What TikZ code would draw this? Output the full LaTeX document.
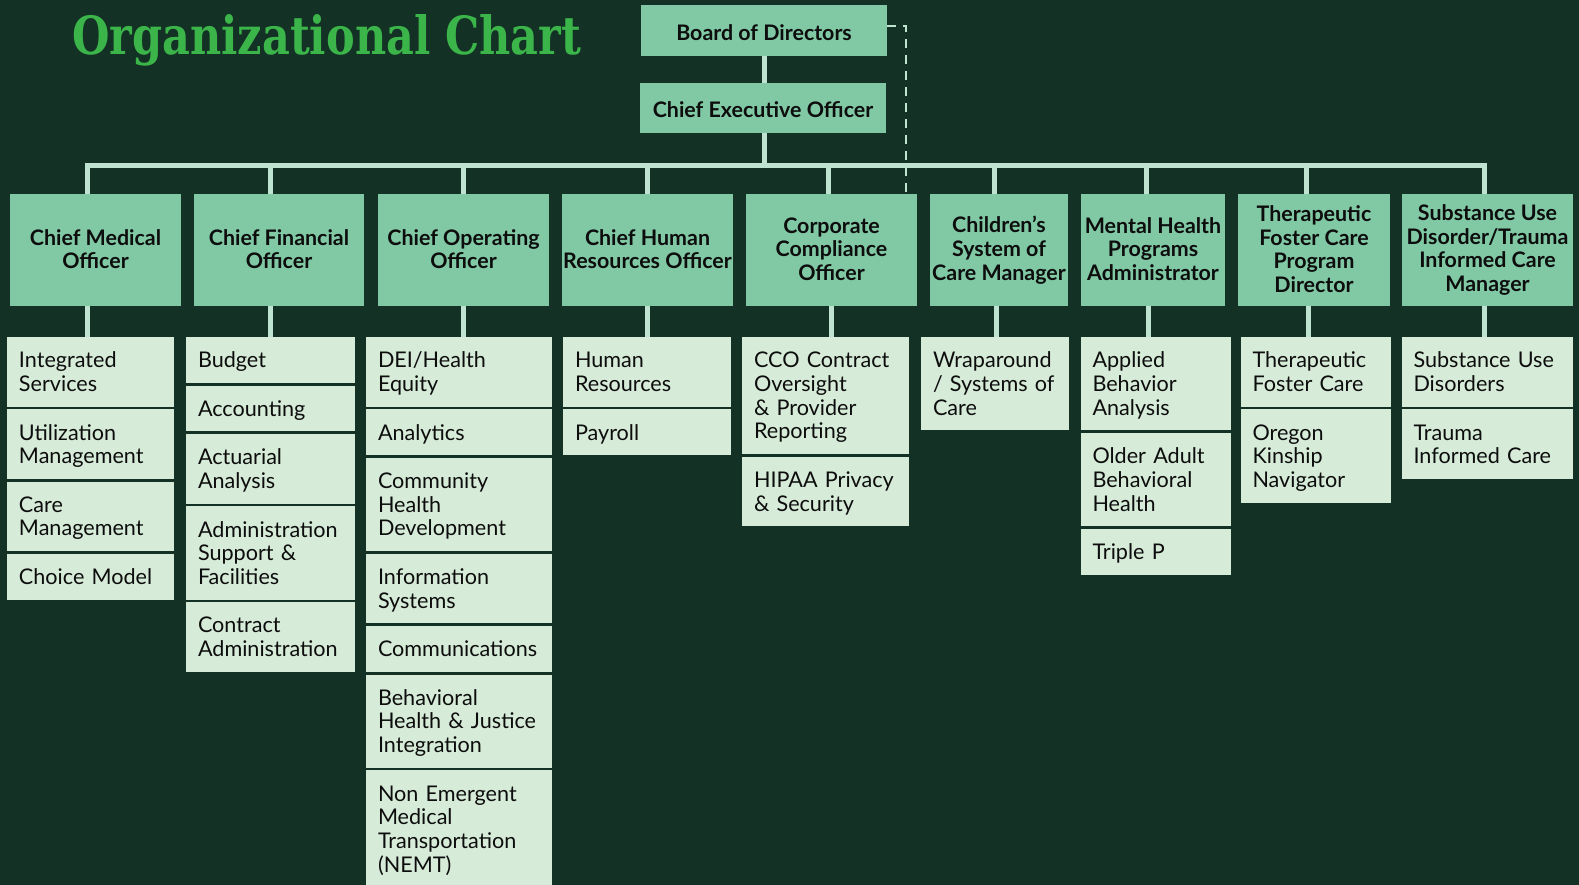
\documentclass[tikz,border=0pt]{standalone}
\usepackage{fontspec}
\setmainfont{Lato}
\newfontfamily\subfont{Lato}[WordSpace=0.75]
\newfontfamily\titlefont{DejaVu Serif}
\usetikzlibrary{positioning}
\definecolor{bgc}{HTML}{133124}
\definecolor{hdrfill}{HTML}{81C9A5}
\definecolor{subfill}{HTML}{D6EBD8}
\definecolor{connc}{HTML}{BEE3D1}
\definecolor{ttlc}{HTML}{3BB54A}
\definecolor{txtc}{HTML}{0D0D0D}
\newcommand\cornernode[7]{%
  \pgfmathsetmacro\cnw{#5-#3}\pgfmathsetmacro\cnh{#6-#4}%
  \node[#1, minimum width=\cnw pt, minimum height=\cnh pt] (#2) at ({(#3+#5)/2},{(#4+#6)/2}) {#7};}
\tikzset{
  hdrbox/.style={fill=hdrfill, inner sep=0pt, align=center, text=txtc,
    font=\bfseries\fontsize{21.4}{23.7}\selectfont,
    execute at begin node=\rule{0pt}{21.5pt}, execute at end node=\rule[-2.2pt]{0pt}{2.2pt}},
  subbox/.style={fill=subfill, inner sep=0pt, align=left, text=txtc,
    font=\subfont\fontsize{21.6}{23.7}\selectfont,
    execute at begin node=\rule{0pt}{19.6pt}, execute at end node=\rule[-4.1pt]{0pt}{4.1pt}},
  oneline/.style={minimum height=45.7pt},
  twoline/.style={minimum height=69.4pt},
  threeline/.style={minimum height=93.1pt},
  fourline/.style={minimum height=116.8pt},
  colA/.style={subbox, minimum width=167pt, text width=143pt},
  colB/.style={subbox, minimum width=169pt, text width=145pt},
  colC/.style={subbox, minimum width=186pt, text width=162pt},
  colD/.style={subbox, minimum width=168pt, text width=144pt},
  colE/.style={subbox, minimum width=167pt, text width=143pt},
  colF/.style={subbox, minimum width=148pt, text width=124pt},
  colG/.style={subbox, minimum width=150pt, text width=126pt},
  colH/.style={subbox, minimum width=150pt, text width=126pt},
  colI/.style={subbox, minimum width=171pt, text width=147pt},
  conn/.style={draw=connc, line width=5pt},
  dashconn/.style={draw=connc, line width=2.5pt, dash pattern=on 9pt off 7pt},
}
\begin{document}
\begin{tikzpicture}[x=1pt,y=-1pt]
\fill[bgc] (0,0) rectangle (1579,885);
\useasboundingbox (0,0) rectangle (1579,885);

% title
\node[anchor=base west, inner sep=0pt, text=ttlc] (title) at (72,55)
  {\resizebox{509pt}{40pt}{\titlefont\bfseries Organizational Chart}};

% top
\cornernode{hdrbox}{board}{641}{5}{887}{56}{Board of Directors}
\cornernode{hdrbox}{ceo}{640}{83}{886}{133}{Chief Executive Officer}

% officers
\cornernode{hdrbox}{cmo}{10}{194}{181}{306}{Chief Medical\\Officer}
\cornernode{hdrbox}{cfo}{194}{194}{364}{306}{Chief Financial\\Officer}
\cornernode{hdrbox}{coo}{378}{194}{549}{306}{Chief Operating\\Officer}
\cornernode{hdrbox}{chro}{562}{194}{733}{306}{Chief Human\\Resources Officer}
\cornernode{hdrbox}{cco}{746}{194}{917}{306}{Corporate\\Compliance\\Officer}
\cornernode{hdrbox}{csoc}{930}{194}{1068}{306}{Children’s\\System of\\Care Manager}
\cornernode{hdrbox}{mhpa}{1081}{194}{1225}{306}{Mental Health\\Programs\\Administrator}
\cornernode{hdrbox}{tfc}{1238}{194}{1390}{306}{Therapeutic\\Foster Care\\Program\\Director}
\cornernode{hdrbox}{sud}{1402}{194}{1573}{306}{Substance Use\\Disorder/Trauma\\Informed Care\\Manager}

% CMO column
\node[colA, twoline, anchor=north] (cmo1) at (90.5,337) {Integrated\\Services};
\node[colA, twoline, below=2.4pt of cmo1] (cmo2) {Utilization\\Management};
\node[colA, twoline, below=2.4pt of cmo2] (cmo3) {Care\\Management};
\node[colA, oneline, below=2.4pt of cmo3] (cmo4) {Choice Model};

% CFO column
\node[colB, oneline, anchor=north] (cfo1) at (270.5,337) {Budget};
\node[colB, oneline, below=2.4pt of cfo1] (cfo2) {Accounting};
\node[colB, twoline, below=2.4pt of cfo2] (cfo3) {Actuarial\\Analysis};
\node[colB, threeline, below=2.4pt of cfo3] (cfo4) {Administration\\Support \&\\Facilities};
\node[colB, twoline, below=2.4pt of cfo4] (cfo5) {Contract\\Administration};

% COO column
\node[colC, twoline, anchor=north] (coo1) at (459,337) {DEI/Health\\Equity};
\node[colC, oneline, below=2.4pt of coo1] (coo2) {Analytics};
\node[colC, threeline, below=2.4pt of coo2] (coo3) {Community\\Health\\Development};
\node[colC, twoline, below=2.4pt of coo3] (coo4) {Information\\Systems};
\node[colC, oneline, below=2.4pt of coo4] (coo5) {Communications};
\node[colC, threeline, below=2.4pt of coo5] (coo6) {Behavioral\\Health \& Justice\\Integration};
\node[colC, fourline, below=2.4pt of coo6] (coo7) {Non Emergent\\Medical\\Transportation\\(NEMT)};

% CHRO column
\node[colD, twoline, anchor=north] (chro1) at (647,337) {Human\\Resources};
\node[colD, oneline, below=2.4pt of chro1] (chro2) {Payroll};

% CCO column
\node[colE, fourline, anchor=north] (cco1) at (825.5,337) {CCO Contract\\Oversight\\\& Provider\\Reporting};
\node[colE, twoline, below=2.4pt of cco1] (cco2) {HIPAA Privacy\\\& Security};

% Children's column
\node[colF, threeline, anchor=north] (csoc1) at (995,337) {Wraparound\\/ Systems of\\Care};

% MH column
\node[colG, threeline, anchor=north] (mhpa1) at (1155.5,337) {Applied\\Behavior\\Analysis};
\node[colG, threeline, below=2.4pt of mhpa1] (mhpa2) {Older Adult\\Behavioral\\Health};
\node[colG, oneline, below=2.4pt of mhpa2] (mhpa3) {Triple P};

% TFC column
\node[colH, twoline, anchor=north] (tfc1) at (1315.5,337) {Therapeutic\\Foster Care};
\node[colH, threeline, below=2.4pt of tfc1] (tfc2) {Oregon\\Kinship\\Navigator};

% SUD column
\node[colI, twoline, anchor=north] (sud1) at (1487,337) {Substance Use\\Disorders};
\node[colI, twoline, below=2.4pt of sud1] (sud2) {Trauma\\Informed Care};

% connectors
\coordinate (bar) at (764,166);
\draw[conn] (board.south) -- (board.south |- ceo.north);
\draw[conn] (board.south |- ceo.south) -- (board.south |- bar);
\draw[conn] (87,0 |- cmo.north) -- (87,166) -- (1484,166) -- (1484,0 |- sud.north);
\draw[conn] (270,166) -- (270,0 |- cfo.north);
\draw[conn] (463,166) -- (463,0 |- coo.north);
\draw[conn] (647,166) -- (647,0 |- chro.north);
\draw[conn] (828,166) -- (828,0 |- cco.north);
\draw[conn] (994,166) -- (994,0 |- csoc.north);
\draw[conn] (1146,166) -- (1146,0 |- mhpa.north);
\draw[conn] (1306,166) -- (1306,0 |- tfc.north);

\draw[conn] (87,0 |- cmo.south) -- (87,0 |- cmo1.north);
\draw[conn] (270,0 |- cfo.south) -- (270,0 |- cfo1.north);
\draw[conn] (463,0 |- coo.south) -- (463,0 |- coo1.north);
\draw[conn] (647,0 |- chro.south) -- (647,0 |- chro1.north);
\draw[conn] (831,0 |- cco.south) -- (831,0 |- cco1.north);
\draw[conn] (996,0 |- csoc.south) -- (996,0 |- csoc1.north);
\draw[conn] (1148,0 |- mhpa.south) -- (1148,0 |- mhpa1.north);
\draw[conn] (1308,0 |- tfc.south) -- (1308,0 |- tfc1.north);
\draw[conn] (1484,0 |- sud.south) -- (1484,0 |- sud1.north);

\draw[dashconn] ([yshift=4.5pt]board.east) -| (906,0 |- cco.north);
\end{tikzpicture}
\end{document}
